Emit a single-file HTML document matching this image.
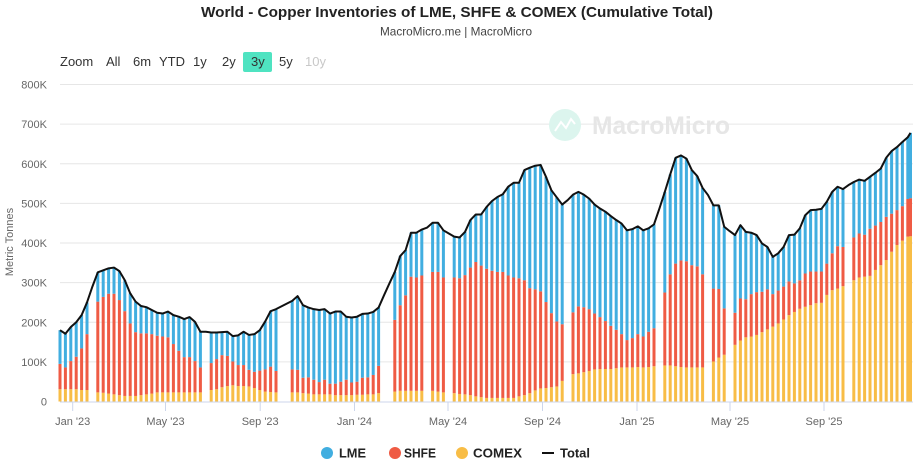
<!DOCTYPE html>
<html><head><meta charset="utf-8"><style>
html,body{margin:0;padding:0;background:#fff;}
svg{display:block;font-family:"Liberation Sans",sans-serif;}
</style></head><body>
<svg id="c" width="919" height="466" viewBox="0 0 919 466" xmlns="http://www.w3.org/2000/svg">
<rect x="0" y="0" width="919" height="466" fill="#fff"/>
<text x="201" y="17" font-size="15" font-weight="bold" fill="#222" textLength="512" lengthAdjust="spacingAndGlyphs">World - Copper Inventories of LME, SHFE &amp; COMEX (Cumulative Total)</text>
<text x="380" y="35.5" font-size="12" fill="#444" textLength="152" lengthAdjust="spacingAndGlyphs">MacroMicro.me | MacroMicro</text>
<g font-size="13" fill="#333">
<text x="60" y="66">Zoom</text>
<text x="106" y="66">All</text>
<text x="133" y="66">6m</text>
<text x="159" y="66">YTD</text>
<text x="193" y="66">1y</text>
<text x="222" y="66">2y</text>
<rect x="243" y="52" width="29" height="20" rx="2" fill="#4fe3c1"/>
<text x="251" y="66">3y</text>
<text x="279" y="66">5y</text>
<text x="305" y="66" fill="#c8c8c8">10y</text>
</g>
<g stroke="#e6e6e6" stroke-width="1">
<line x1="60" x2="913" y1="84.5" y2="84.5"/>
<line x1="60" x2="913" y1="124.1" y2="124.1"/>
<line x1="60" x2="913" y1="163.8" y2="163.8"/>
<line x1="60" x2="913" y1="203.4" y2="203.4"/>
<line x1="60" x2="913" y1="243" y2="243"/>
<line x1="60" x2="913" y1="282.6" y2="282.6"/>
<line x1="60" x2="913" y1="322.3" y2="322.3"/>
<line x1="60" x2="913" y1="361.9" y2="361.9"/>
</g>
<g font-size="11" fill="#666" text-anchor="end">
<text x="47" y="88.5">800K</text>
<text x="47" y="128.1">700K</text>
<text x="47" y="167.8">600K</text>
<text x="47" y="207.4">500K</text>
<text x="47" y="247">400K</text>
<text x="47" y="286.6">300K</text>
<text x="47" y="326.3">200K</text>
<text x="47" y="365.9">100K</text>
<text x="47" y="405.5">0</text>
</g>
<text transform="translate(13,242) rotate(-90)" font-size="11" fill="#666" text-anchor="middle">Metric Tonnes</text>
<g>
<circle cx="565" cy="125" r="16" fill="#dcf5ee"/>
<polyline points="555,131 561,122 566,128 571,119 575,124" fill="none" stroke="#fff" stroke-width="2"/>
<text x="592" y="134" font-size="25" font-weight="bold" fill="#e6e6e6" textLength="138" lengthAdjust="spacingAndGlyphs">MacroMicro</text>
</g>
<g id="bars"></g>
<line x1="60" x2="913" y1="402" y2="402" stroke="#ccd6eb" stroke-width="1"/>
<g stroke="#ccd6eb" stroke-width="1">
<line x1="72.7" x2="72.7" y1="402" y2="411"/>
<line x1="165.5" x2="165.5" y1="402" y2="411"/>
<line x1="260.2" x2="260.2" y1="402" y2="411"/>
<line x1="354.5" x2="354.5" y1="402" y2="411"/>
<line x1="448" x2="448" y1="402" y2="411"/>
<line x1="542.5" x2="542.5" y1="402" y2="411"/>
<line x1="637" x2="637" y1="402" y2="411"/>
<line x1="730" x2="730" y1="402" y2="411"/>
<line x1="824" x2="824" y1="402" y2="411"/>
</g>
<g font-size="11" fill="#666" text-anchor="middle">
<text x="72.7" y="425">Jan '23</text>
<text x="165.5" y="425">May '23</text>
<text x="260.2" y="425">Sep '23</text>
<text x="354.5" y="425">Jan '24</text>
<text x="448" y="425">May '24</text>
<text x="542.5" y="425">Sep '24</text>
<text x="637" y="425">Jan '25</text>
<text x="730" y="425">May '25</text>
<text x="824" y="425">Sep '25</text>
</g>
<path id="tot" d="" fill="none" stroke="#111" stroke-width="2" stroke-linejoin="round"/>
<g font-size="13" font-weight="bold" fill="#222">
<circle cx="327" cy="453" r="6" fill="#41aee0"/>
<text x="339" y="457.5" textLength="27" lengthAdjust="spacingAndGlyphs">LME</text>
<circle cx="395" cy="453" r="6" fill="#ef5b44"/>
<text x="404" y="457.5" textLength="32" lengthAdjust="spacingAndGlyphs">SHFE</text>
<circle cx="462" cy="453" r="6" fill="#f8bd46"/>
<text x="473" y="457.5" textLength="49" lengthAdjust="spacingAndGlyphs">COMEX</text>
<line x1="542" x2="554" y1="453" y2="453" stroke="#111" stroke-width="2"/>
<text x="560" y="457.5" textLength="30" lengthAdjust="spacingAndGlyphs">Total</text>
</g>
</svg>
<script>
(function(){
var D=[
[31,95,180],[31,86,171],[31,102,188],[31,113,200],[29,134,218],[29,170,250],[null,null,290],
[23,252,326],[22,264,331],[20,272,336],[18,272,338],[16,256,329],[14,228,306],[14,197,273],[14,175,252],
[16,172,241],[18,172,238],[20,170,231],[23,166,224],[23,164,222],[23,162,227],[23,145,218],[23,128,214],
[23,112,208],[23,112,213],[23,102,201],[23,86,176],[null,null,176],
[29,97,174],[31,107,174],[36,117,175],[39,115,176],[41,101,165],[39,92,167],[39,92,176],[38,80,168],
[34,75,170],[29,78,180],[25,81,202],[24,88,228],[23,77,233],[null,null,240],[null,null,247],
[23,81,254],[23,80,266],[21,60,243],[20,61,237],[18,55,233],[18,49,231],[18,55,233],[18,45,222],
[16,45,227],[16,50,227],[16,55,214],[16,48,212],[17,50,214],[17,60,221],[18,61,222],[18,67,226],
[21,90,237],[null,null,268],[null,null,298],
[25,206,327],[27,243,367],[27,268,382],[27,315,426],[27,313,426],[27,318,434],[null,null,439],
[27,327,451],[25,327,451],[23,313,432],[null,null,424],
[21,313,416],[19,311,414],[18,319,428],[16,338,458],[13,352,472],[11,343,472],[9,335,491],[9,330,506],
[9,327,516],[9,327,523],[9,318,542],[9,313,552],[13,311,552],[16,306,584],[21,286,590],[28,283,595],
[33,278,597],[34,251,567],[36,223,533],[38,202,515],[52,195,497],[null,null,508],
[69,225,522],[71,240,529],[74,238,522],[77,233,512],[81,222,497],[82,213,487],[82,203,479],[82,191,468],
[84,181,458],[86,170,449],[86,155,432],[86,160,435],[87,170,442],[86,164,432],[87,176,437],[89,185,447],
[null,null,487],
[91,275,529],[91,321,573],[89,348,615],[87,356,621],[86,354,613],[86,344,584],[86,341,569],[86,321,539],
[null,null,521],
[101,285,495],[111,284,495],[118,235,441],[null,null,430],
[143,224,420],[154,260,445],[162,258,428],[164,271,426],[168,276,420],[175,277,399],[182,283,390],
[189,271,365],[197,280,374],[207,290,390],[218,303,420],[226,298,421],[234,306,437],[239,323,470],
[243,328,483],[248,328,484],[249,328,486],[269,348,504],[281,374,529],[285,392,542],[291,390,536],
[null,null,546],
[306,414,554],[313,424,560],[315,421,557],[317,436,567],[332,444,577],[344,453,588],[357,466,615],
[378,474,632],[395,483,642],[406,493,655],[416,511,667]
];
var NS="http://www.w3.org/2000/svg";
var g=document.getElementById("bars");
function Y(v){return 401.5-v*0.39625;}
function rect(x,y1,y2,col){
  var r=document.createElementNS(NS,"rect");
  r.setAttribute("x",(x-1.5).toFixed(2));
  r.setAttribute("y",y1.toFixed(2));
  r.setAttribute("width","3");
  r.setAttribute("height",Math.max(0,y2-y1).toFixed(2));
  r.setAttribute("fill",col);
  g.appendChild(r);
}
var pts=[];
function add(x,d){
  if(d[0]!==null){
    rect(x,Y(d[0]),401.5,"#f8bd46");
    rect(x,Y(d[1]),Y(d[0]),"#ef5b44");
    rect(x,Y(d[2]),Y(d[1]),"#41aee0");
  }
  pts.push(x.toFixed(2)+","+Y(d[2]).toFixed(2));
}
for(var i=0;i<D.length;i++){add(60+5.4*i,D[i]);}
add(910.5,[417,513,678]);
document.getElementById("tot").setAttribute("d","M"+pts.join(" L"));
})();
</script>
</body></html>
